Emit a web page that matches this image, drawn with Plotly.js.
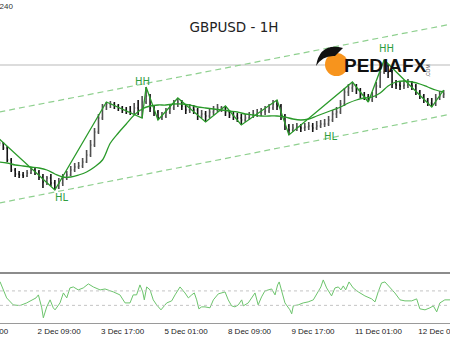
<!DOCTYPE html>
<html><head><meta charset="utf-8">
<script src="https://cdn.plot.ly/plotly-3.0.1.min.js"></script>
<style>html,body{margin:0;padding:0;background:#fff;overflow:hidden}#chart{width:450px;height:338px}</style>
</head><body><div id="chart"></div>
<script>
// ---- price data (2-hour bars, hour index) ----
const firstOpen = 1.3340;
const closes = [
1.3337,1.3332,1.3320,1.3310,1.3306,1.3305,1.3304,1.3307,1.3310,1.3308,
1.3303,1.3298,1.3302,1.3297,1.3292,1.3297,1.3302,1.3305,1.3310,1.3313,
1.3314,1.3318,1.3325,1.3335,1.3348,1.3362,1.3374,1.3376,1.3376,1.3374,
1.3372,1.3370,1.3368,1.3368,1.3372,1.3370,1.3378,1.3384,1.3372,1.3368,
1.3362,1.3364,1.3368,1.3372,1.3376,1.3378,1.3374,1.3370,1.3372,1.3370,
1.3364,1.3366,1.3364,1.3368,1.3370,1.3372,1.3372,1.3368,1.3365,1.3364,
1.3362,1.3360,1.3362,1.3365,1.3366,1.3367,1.3368,1.3369,1.3372,1.3376,
1.3374,1.3364,1.3354,1.3350,1.3352,1.3353,1.3352,1.3353,1.3354,1.3352,
1.3354,1.3356,1.3356,1.3360,1.3366,1.3368,1.3376,1.3388,1.3392,1.3394,
1.3390,1.3385,1.3383,1.3380,1.3384,1.3394,1.3408,1.3414,1.3408,1.3396,
1.3395,1.3394,1.3395,1.3396,1.3394,1.3388,1.3384,1.3380,1.3377,1.3376,
1.3382,1.3384,1.3386];
const highs = [
1.3341,1.3338,1.3334,1.3322,1.3312,1.3309,1.3308,1.3310,1.3313,1.3312,
1.3310,1.3306,1.3304,1.3306,1.3300,1.3302,1.3306,1.3309,1.3314,1.3317,
1.3318,1.3322,1.3330,1.3340,1.3352,1.3366,1.3376,1.3378,1.3379,1.3378,
1.3376,1.3374,1.3373,1.3374,1.3377,1.3380,1.3384,1.3393,1.3386,1.3374,
1.3370,1.3368,1.3372,1.3376,1.3380,1.3382,1.3380,1.3376,1.3376,1.3375,
1.3372,1.3370,1.3369,1.3372,1.3374,1.3376,1.3374,1.3374,1.3370,1.3368,
1.3367,1.3366,1.3366,1.3368,1.3370,1.3371,1.3372,1.3374,1.3376,1.3380,
1.3380,1.3376,1.3366,1.3356,1.3356,1.3357,1.3356,1.3357,1.3358,1.3357,
1.3359,1.3360,1.3361,1.3364,1.3370,1.3373,1.3380,1.3392,1.3396,1.3398,
1.3396,1.3392,1.3388,1.3386,1.3388,1.3398,1.3412,1.3420,1.3416,1.3410,
1.3400,1.3399,1.3400,1.3401,1.3399,1.3396,1.3390,1.3386,1.3382,1.3382,
1.3386,1.3389,1.3390];
const lows = [
1.3334,1.3330,1.3318,1.3308,1.3303,1.3302,1.3302,1.3303,1.3306,1.3305,
1.3300,1.3292,1.3295,1.3294,1.3290,1.3291,1.3294,1.3300,1.3304,1.3308,
1.3311,1.3312,1.3317,1.3323,1.3333,1.3346,1.3360,1.3370,1.3372,1.3371,
1.3369,1.3367,1.3366,1.3365,1.3366,1.3365,1.3362,1.3376,1.3368,1.3364,
1.3360,1.3360,1.3362,1.3366,1.3370,1.3373,1.3370,1.3366,1.3367,1.3366,
1.3360,1.3362,1.3358,1.3362,1.3365,1.3368,1.3368,1.3364,1.3362,1.3360,
1.3358,1.3355,1.3358,1.3360,1.3362,1.3363,1.3364,1.3365,1.3367,1.3370,
1.3370,1.3360,1.3350,1.3345,1.3348,1.3349,1.3348,1.3349,1.3350,1.3348,
1.3350,1.3352,1.3353,1.3354,1.3358,1.3362,1.3366,1.3374,1.3384,1.3388,
1.3386,1.3382,1.3380,1.3378,1.3378,1.3382,1.3392,1.3406,1.3402,1.3392,
1.3391,1.3390,1.3391,1.3392,1.3390,1.3385,1.3381,1.3377,1.3374,1.3373,
1.3374,1.3380,1.3382];

// ---- moving average (sampled every 4 hours) ----
const maHours = [0,4,8,12,16,20,24,28,32,36,40,44,48,52,56,60,64,68,72,76,80,84,88,92,96,100,104,108,112,116,120,124,128,132,136,140,144,148,152,156,160,164,168,172,176,180,184,188,192,196,200,204,208,212,216,220,224];
const maValues = [1.3318,1.3317,1.3315,1.3314,1.3313,1.3312,1.3310,1.3306,1.3303,1.3303,1.3305,1.3308,1.3313,1.3320,1.3337,1.3347,1.3356,1.3365,1.3371,1.3374,1.3375,1.3375,1.3376,1.3376,1.3375,1.3373,1.3372,1.3371,1.3370,1.3369,1.3368,1.3366,1.3365,1.3364,1.3364,1.3364,1.3363,1.3361,1.3360,1.3361,1.3364,1.3367,1.3370,1.3373,1.3377,1.3380,1.3382,1.3383,1.3387,1.3394,1.3398,1.3399,1.3398,1.3396,1.3393,1.3390,1.3388];

// ---- zigzag swing points ----
const zzHours = [0,28,54,72,74,80,90,104,114,122,140,146,178,186,194,218,224];
const zzPrices = [1.3341,1.3290,1.3378,1.3362,1.3393,1.3360,1.3382,1.3358,1.3374,1.3355,1.3380,1.3345,1.3398,1.3378,1.3420,1.3373,1.3390];

// ---- swing labels ----
const swingText = ['HL','HH','HL','HH'];
const swingHours = [31.6,72.4,167.2,195.4];
const swingPrices = [1.3283,1.3399,1.3344,1.3432];

// ---- channel lines ----
const channelHours = [0,228];
const channelUpper = [1.3368,1.3456];
const channelLower = [1.3277,1.3366];
const levelPrice = 1.3415;

// ---- oscillator ----
const oscHours = [0.35,2.0,3.7,7.0,10.4,13.8,17.1,18.5,19.7,20.5,21.4,22.2,23.9,25.6,27.2,28.1,30.6,32.3,34.0,35.6,37.3,39.8,42.3,44.9,47.4,50.8,53.3,57.5,60.8,63.4,65.9,67.5,69.2,70.9,72.3,73.1,74.3,76.0,77.6,79.3,81.5,84.4,86.9,88.6,91.1,93.6,95.3,97.0,98.3,99.5,100.6,102.0,103.7,106.2,107.9,110.4,113.8,115.4,117.1,118.8,120.5,122.2,123.0,125.5,128.0,128.9,130.5,132.2,133.9,135.6,137.3,139.0,140.3,141.1,142.3,144.0,146.5,147.4,148.2,150.7,153.2,155.7,158.3,160.8,162.1,163.3,165.0,167.5,169.2,170.9,172.2,173.4,174.6,176.3,178.4,181.0,184.3,187.7,189.4,191.0,192.7,194.4,196.9,199.4,202.0,204.5,207.9,210.4,212.0,214.6,217.1,218.8,220.5,222.1,224.6,227.2];
const oscValues = [228,114,3,-93,-103,-66,-10,3,45,-24,-134,-272,-121,-24,-134,-162,-66,72,3,141,155,114,141,197,155,114,127,86,45,-66,-66,45,45,183,86,-24,155,114,-24,-93,-162,-66,-38,45,155,72,3,45,72,-24,-148,-121,-121,-134,-24,59,86,-24,-107,-121,-93,-24,-107,-66,45,72,-93,17,100,114,127,45,183,224,86,-66,-162,-217,-107,-93,-66,-52,-24,86,155,252,141,31,141,155,114,169,114,224,141,86,31,-10,-52,86,210,224,155,72,-24,-38,-38,-10,-148,-162,-134,-107,-190,-66,-24,-24];
const oscLevels = [100,-100];

// ---- time axis ----
const tickHours = [19,51,83,115,147,179,211];
const tickLabels = ['2 Dec 09:00','3 Dec 17:00','5 Dec 01:00','8 Dec 09:00','9 Dec 17:00','11 Dec 01:00','12 Dec 09:00'];
const cutLabel = '1 Dec 01:00';
const cornerPrice = '1.34240';

const barHours = closes.map((_, i) => 2 * i);
const opens = closes.map((c, i) => i === 0 ? firstOpen : closes[i - 1]);

const W = 450, H = 338;
const py = p => 1 - p / H;
const px = p => p / W;
const green = '#2a9a2a';

const traces = [
  {type:'scatter', mode:'lines', x:channelHours, y:channelUpper, line:{color:'#8fd08f', width:1.2, dash:'6px,4px'}, hoverinfo:'skip'},
  {type:'scatter', mode:'lines', x:channelHours, y:channelLower, line:{color:'#8fd08f', width:1.2, dash:'6px,4px'}, hoverinfo:'skip'},
  {type:'ohlc', x:barHours, open:opens, high:highs, low:lows, close:closes, tickwidth:0.25,
   increasing:{line:{color:'#505050', width:1.6}},
   decreasing:{line:{color:'#141414', width:1.6}}},
  {type:'scatter', mode:'lines', x:maHours, y:maValues, line:{color:green, width:1.3, shape:'spline'}},
  {type:'scatter', mode:'lines', x:zzHours, y:zzPrices, line:{color:green, width:1.3}},
  {type:'scatter', mode:'lines', x:oscHours, y:oscValues, yaxis:'y2', line:{color:'#6cc46c', width:1}}
];

const shapes = [
  {type:'line', xref:'paper', yref:'y', x0:0, x1:1, y0:levelPrice, y1:levelPrice, line:{color:'#dcdcdc', width:2}, layer:'below'},
  {type:'line', xref:'paper', yref:'paper', x0:0, x1:1, y0:py(273), y1:py(273), line:{color:'#8c8c8c', width:2.2}},
  {type:'circle', xref:'paper', yref:'paper', x0:px(325), x1:px(348), y0:py(76), y1:py(53), fillcolor:'#f7941d', line:{width:0}},
  {type:'path', xref:'paper', yref:'paper',
   path:'M'+px(343)+','+py(48)+' Q'+px(320)+','+py(42)+' '+px(316)+','+py(66)+' Q'+px(323)+','+py(55)+' '+px(335)+','+py(56)+' Z',
   fillcolor:'#111', line:{width:0}}
];
oscLevels.forEach(v => shapes.push({type:'line', xref:'paper', yref:'y2', x0:0, x1:1, y0:v, y1:v, line:{color:'#c4c4c4', width:1, dash:'dot'}}));

const annotations = swingText.map((t, i) => ({x:swingHours[i], y:swingPrices[i], xref:'x', yref:'y', text:t, showarrow:false,
  font:{family:'DejaVu Sans', size:10, color:'#2f9e3f'}}));
annotations.push({xref:'paper', yref:'paper', x:px(429), y:py(65), xanchor:'right', yanchor:'middle', text:'<b>PEDIAFX</b>', showarrow:false,
  font:{family:'Liberation Sans', size:19, color:'#111'}});
annotations.push({xref:'paper', yref:'paper', x:px(433), y:py(63), text:'.COM', textangle:-90, showarrow:false,
  font:{family:'Liberation Sans', size:5, color:'#555'}});
annotations.push({xref:'paper', yref:'paper', x:px(11), y:py(331), xanchor:'right', yanchor:'middle', text:cutLabel, showarrow:false,
  font:{family:'Liberation Sans', size:8, color:'#222'}});
annotations.push({xref:'paper', yref:'paper', x:px(15), y:py(7), xanchor:'right', yanchor:'middle', text:cornerPrice, showarrow:false,
  font:{family:'Liberation Sans', size:8, color:'#333'}});

const layout = {
  width:W, height:H, margin:{l:0, r:0, t:0, b:0}, paper_bgcolor:'#fff', plot_bgcolor:'#fff', showlegend:false,
  title:{text:'GBPUSD - 1H', x:px(234), y:py(27), xanchor:'center', yanchor:'middle', font:{family:'DejaVu Sans', size:13.5, color:'#222'}},
  xaxis:{domain:[0,1], range:[0.35,227.2], anchor:'y2', tickmode:'array', tickvals:tickHours, ticktext:tickLabels,
    ticklabelposition:'outside right', ticklabeloverflow:'allow', ticks:'', showgrid:false, zeroline:false, showline:true, linecolor:'#9a9a9a', linewidth:1,
    rangeslider:{visible:false}, automargin:false, tickfont:{family:'Liberation Sans', size:8, color:'#222'}},
  yaxis:{domain:[py(271),1], range:[1.3209,1.3480], anchor:'x', visible:false, showgrid:false, zeroline:false},
  yaxis2:{domain:[py(323),py(274)], range:[-344,334], anchor:'x', visible:false, showgrid:false, zeroline:false},
  shapes:shapes, annotations:annotations
};
Plotly.newPlot('chart', traces, layout, {staticPlot:true, displayModeBar:false});
</script></body></html>
